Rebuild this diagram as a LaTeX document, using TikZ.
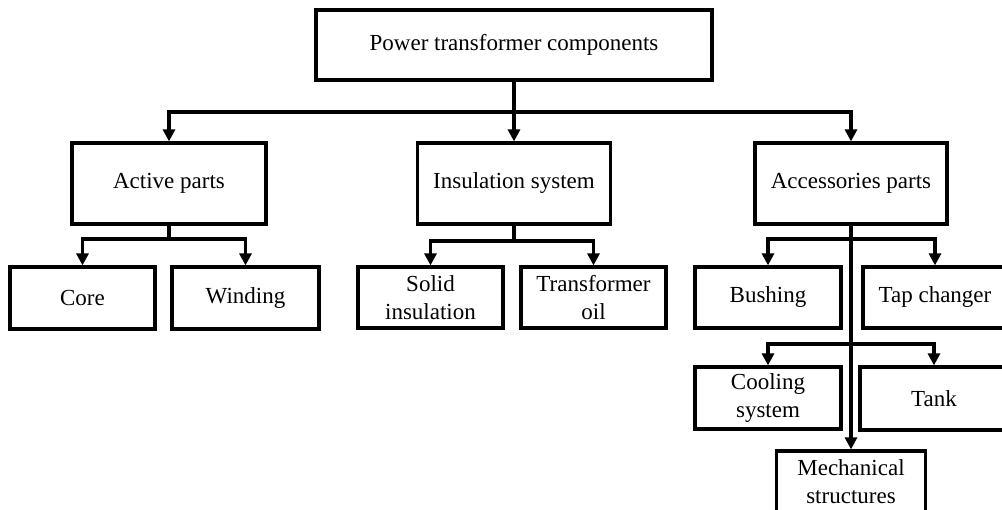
\documentclass[tikz,border=0pt]{standalone}
\usepackage{fontspec}
\setmainfont{Liberation Serif}
\usetikzlibrary{arrows.meta}
\begin{document}
\begin{tikzpicture}[x=1pt,y=-1pt,
  box/.style={draw=black,line width=3.2pt,rectangle,inner sep=0pt,align=center,
    font=\fontsize{23}{28}\selectfont},
  arr/.style={line width=3.2pt,line join=miter,line cap=rect,-{Triangle[length=12pt,width=12pt]}},
  ln/.style={line width=3.2pt,line join=miter,line cap=rect}]
\useasboundingbox (0,0) rectangle (1002,510);
\clip (0,0) rectangle (1002,510);
\fill[white] (0,0) rectangle (1002,510);
% nodes
\node[box,minimum width=396pt,minimum height=70pt] (top) at (514,45) {Power transformer components};
\node[box,minimum width=194pt,minimum height=81pt] (act) at (169,183.5) {Active parts};
\node[box,minimum width=193pt,minimum height=81pt] (ins) at (514,183.5) {Insulation system};
\node[box,minimum width=192pt,minimum height=81pt] (acc) at (851,183.5) {Accessories parts};
\node[box,minimum width=145pt,minimum height=62pt] (core) at (82.5,298) {Core};
\node[box,minimum width=147pt,minimum height=62pt] (wind) at (245.5,298) {Winding};
\node[box,minimum width=145pt,minimum height=61pt] (solid) at (430.5,297.5) {Solid\\insulation};
\node[box,minimum width=145pt,minimum height=61pt] (oil) at (593.5,297.5) {Transformer\\oil};
\node[box,minimum width=146pt,minimum height=61pt] (bush) at (768,297.5) {Bushing};
\node[box,minimum width=144pt,minimum height=61pt] (tap) at (935,297.5) {Tap changer};
\node[box,minimum width=146pt,minimum height=62pt] (cool) at (768,398) {Cooling\\system};
\node[box,minimum width=148pt,minimum height=63pt] (tank) at (934,398.5) {Tank};
\node[box,minimum width=149pt,minimum height=62pt] (mech) at (851,482) {Mechanical\\structures};
% junction coordinates
\coordinate (j0) at (514,112);
\coordinate (j1) at (169,239);
\coordinate (j2) at (514,241);
\coordinate (j3) at (851,239);
\coordinate (j4) at (851,344);
% connectors
\draw[arr] (top.south) -- (ins.north);
\draw[arr] (j0) -| (act.north);
\draw[arr] (j0) -| (acc.north);
\draw[ln] (act.south) -- (j1);
\draw[arr] (j1) -| (core.north);
\draw[arr] (j1) -| (wind.north);
\draw[ln] (ins.south) -- (j2);
\draw[arr] (j2) -| (solid.north);
\draw[arr] (j2) -| (oil.north);
\draw[arr] (acc.south) -- (mech.north);
\draw[arr] (j3) -| (bush.north);
\draw[arr] (j3) -| (tap.north);
\draw[arr] (j4) -| (cool.north);
\draw[arr] (j4) -| (tank.north);
\end{tikzpicture}
\end{document}
